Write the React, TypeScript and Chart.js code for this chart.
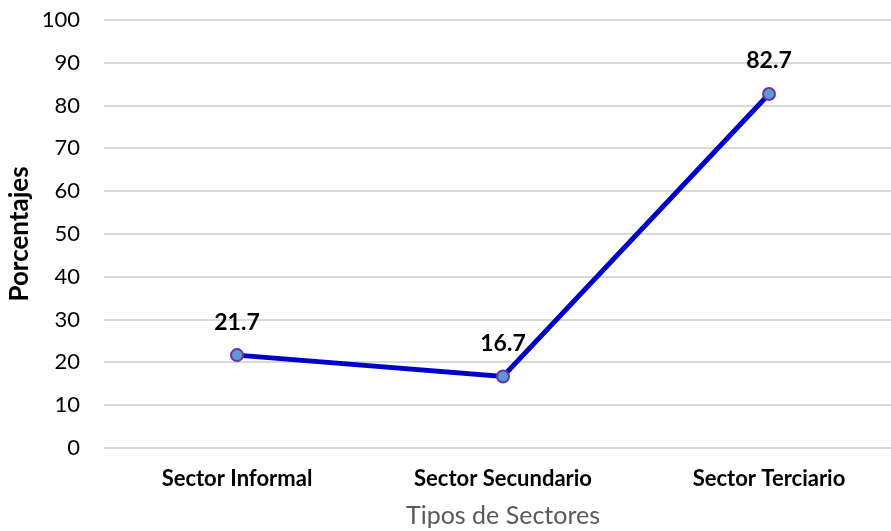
import React, { useEffect, useRef } from "react";
import { Chart, registerables } from "chart.js";

Chart.register(...registerables);

const categories = ["Sector Informal", "Sector Secundario", "Sector Terciario"];
const values = [21.7, 16.7, 82.7];
const yTicks = [0, 10, 20, 30, 40, 50, 60, 70, 80, 90, 100];
const xTitle = "Tipos de Sectores";
const yTitle = "Porcentajes";

const FONT = "Lato, 'Open Sans', sans-serif";

const labelPlugin = {
  id: "pointLabels",
  afterDatasetsDraw(chart: any) {
    const ctx = chart.ctx;
    const meta = chart.getDatasetMeta(0);
    ctx.save();
    ctx.font = `bold 23px ${FONT}`;
    ctx.fillStyle = "#000000";
    ctx.textAlign = "center";
    ctx.textBaseline = "middle";
    meta.data.forEach((pt: any, i: number) => {
      ctx.fillText(values[i].toFixed(1), pt.x, pt.y - 33);
    });
    ctx.restore();
  },
};

export default function App() {
  const ref = useRef<HTMLCanvasElement>(null);
  useEffect(() => {
    if (!ref.current) return;
    const chart = new Chart(ref.current, {
      type: "line",
      data: {
        labels: categories,
        datasets: [
          {
            data: values,
            borderColor: "#0000CC",
            borderWidth: 5,
            pointRadius: 6,
            pointBackgroundColor: "#5B9BD5",
            pointBorderColor: "#7030A0",
            pointBorderWidth: 2,
            tension: 0,
          },
        ],
      },
      options: {
        animation: false,
        responsive: true,
        maintainAspectRatio: false,
        layout: { padding: { top: 20, right: 8, left: 2, bottom: 0 } },
        plugins: {
          legend: { display: false },
          tooltip: { enabled: false },
        },
        scales: {
          x: {
            type: "category",
            offset: true,
            grid: { display: false, drawTicks: false },
            border: { display: false },
            ticks: {
              color: "#000000",
              font: { family: FONT, size: 22, weight: "bold" },
              padding: 18,
              maxRotation: 0,
            },
            title: {
              display: true,
              text: xTitle,
              color: "#595959",
              font: { family: FONT, size: 25 },
              padding: { top: 9, bottom: 0 },
            },
            afterFit: (scale: any) => {
              scale.height = 83;
              scale.paddingLeft = 0;
              scale.paddingRight = 0;
            },
          },
          y: {
            min: 0,
            max: 100,
            afterBuildTicks: (scale: any) => {
              scale.ticks = yTicks.map((v) => ({ value: v }));
            },
            afterFit: (scale: any) => {
              scale.width = 102;
              scale.paddingTop = 0;
              scale.paddingBottom = 0;
            },
            grid: { color: "#D9D9D9", lineWidth: 2, drawTicks: false },
            border: { display: false },
            ticks: {
              color: "#000000",
              font: { family: FONT, size: 22 },
              padding: 24,
            },
            title: {
              display: true,
              text: yTitle,
              color: "#000000",
              font: { family: FONT, size: 26, weight: "bold" },
              padding: { top: 2, bottom: 9 },
            },
          },
        },
      },
      plugins: [labelPlugin],
    });
    return () => chart.destroy();
  }, []);
  return (
    <div style={{ position: "fixed", left: 0, top: 0, width: 910, height: 531 }}>
      <canvas ref={ref} />
    </div>
  );
}
